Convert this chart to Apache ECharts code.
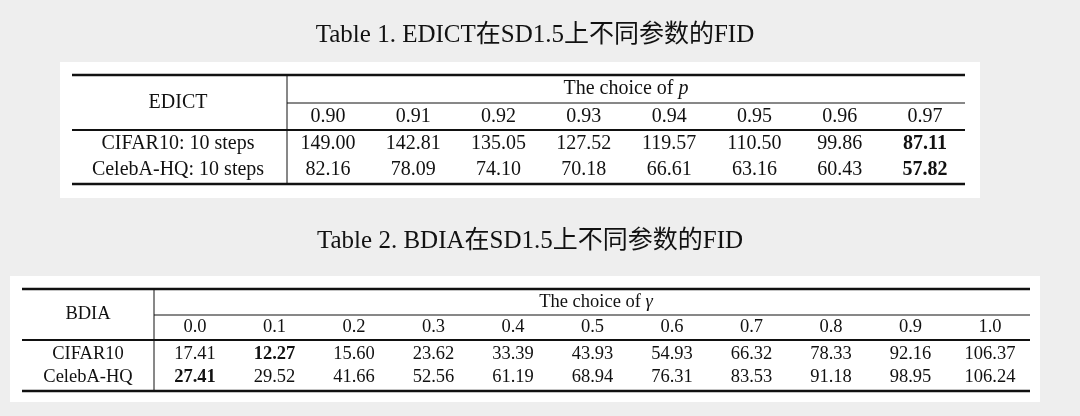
<!DOCTYPE html>
<html><head><meta charset="utf-8">
<script src="https://cdn.jsdelivr.net/npm/echarts@6/dist/echarts.min.js"></script>
<style>html,body{margin:0;padding:0;background:#eeeeee}#c{width:1080px;height:416px}</style>
</head><body><div id="c"></div>
<script>
const title1 = 'Table 1. EDICT在SD1.5上不同参数的FID';
const title2 = 'Table 2. BDIA在SD1.5上不同参数的FID';
const pChoices = ['0.90','0.91','0.92','0.93','0.94','0.95','0.96','0.97'];
const edictRows = ['CIFAR10: 10 steps','CelebA-HQ: 10 steps'];
const edictCifar = ['149.00','142.81','135.05','127.52','119.57','110.50','99.86','87.11'];
const edictCeleba = ['82.16','78.09','74.10','70.18','66.61','63.16','60.43','57.82'];
const gChoices = ['0.0','0.1','0.2','0.3','0.4','0.5','0.6','0.7','0.8','0.9','1.0'];
const bdiaRows = ['CIFAR10','CelebA-HQ'];
const bdiaCifar = ['17.41','12.27','15.60','23.62','33.39','43.93','54.93','66.32','78.33','92.16','106.37'];
const bdiaCeleba = ['27.41','29.52','41.66','52.56','61.19','68.94','76.31','83.53','91.18','98.95','106.24'];

const F = '"Liberation Serif","Noto Sans CJK SC",serif';
const g = [];
function txt(x,y,s,size,bold){g.push({type:'text',x:x,y:y,style:{text:s,fill:'#111',font:(bold?'bold ':'')+size+'px '+F,textAlign:'center',textVerticalAlign:'middle',
  rich:{i:{fontStyle:'italic',fontFamily:F,fontSize:size,fill:'#111'}}}});}
function line(x1,y1,x2,y2,w){g.push({type:'line',shape:{x1:x1,y1:y1,x2:x2,y2:y2},style:{stroke:'#111',lineWidth:w}});}
function table(o){
  g.push({type:'rect',shape:{x:o.bx,y:o.by,width:o.bw,height:o.bh},style:{fill:'#fff'}});
  txt(o.tx,o.ty,o.title,25);
  line(o.x1,o.top,o.x2,o.top,2.5);
  line(o.vx,o.top,o.vx,o.bot,1);
  line(o.vx,o.mid,o.x2,o.mid,1);
  line(o.x1,o.hb,o.x2,o.hb,2);
  line(o.x1,o.bot,o.x2,o.bot,2.5);
  txt(o.lx,(o.top+o.hb)/2,o.name,o.fs);
  txt(o.hx,(o.top+o.mid)/2,o.head,o.fs);
  const step=(o.cl-o.c0)/(o.cols.length-1);
  o.cols.forEach((c,i)=>txt(o.c0+i*step,(o.mid+o.hb)/2,c,o.fs));
  o.rows.forEach((r,j)=>{
    txt(o.lx,o.ry[j],r,o.fs);
    const vals=o.vals[j]; const mn=Math.min(...vals.map(Number));
    vals.forEach((v,i)=>txt(o.c0+i*step,o.ry[j],v,o.fs,Number(v)===mn));
  });
}
table({bx:60,by:62,bw:920,bh:136,tx:535,ty:35,title:title1,x1:72,x2:965,top:75,mid:103,hb:130,bot:184,vx:287,
  lx:178,hx:626,name:'EDICT',head:'The choice of {i|p}',c0:328,cl:925,cols:pChoices,rows:edictRows,ry:[144,170],vals:[edictCifar,edictCeleba],fs:20});
table({bx:10,by:276,bw:1030,bh:126,tx:530,ty:241,title:title2,x1:22,x2:1030,top:289,mid:315,hb:340,bot:391,vx:154,
  lx:88,hx:596,name:'BDIA',head:'The choice of {i|γ}',c0:195,cl:990,cols:gChoices,rows:bdiaRows,ry:[354,377],vals:[bdiaCifar,bdiaCeleba],fs:18.5});

const chart = echarts.init(document.getElementById('c'));
chart.setOption({backgroundColor:'#eeeeee',graphic:g});
</script></body></html>
